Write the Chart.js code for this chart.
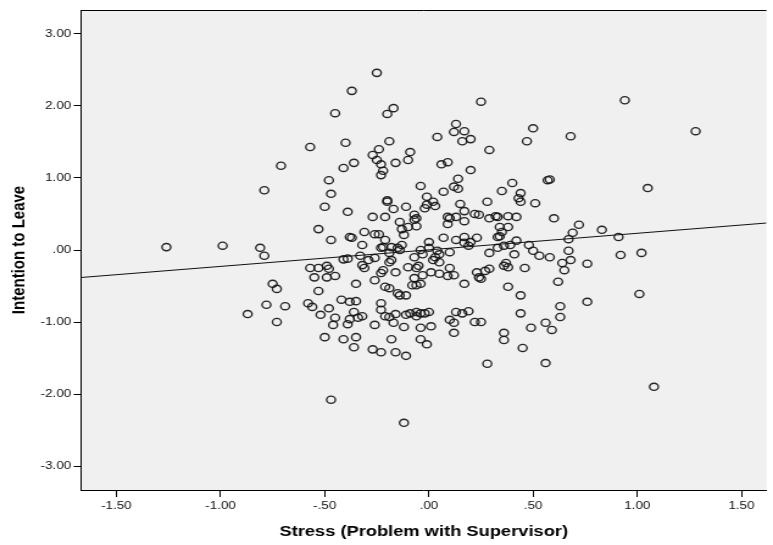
<!DOCTYPE html>
<html>
<head>
<meta charset="utf-8">
<title>Intention to Leave vs Stress</title>
<script src="https://cdn.jsdelivr.net/npm/chart.js@4.4.1/dist/chart.umd.min.js"></script>
<style>
  html, body { margin: 0; padding: 0; background: #fff; }
  #chart { display: block; }
</style>
</head>
<body>
<canvas id="chart"></canvas>
<script>
// one entry per respondent: x = stress (problem with supervisor), y = intention to leave
const stressX = [
  -0.45, -0.57, -0.71, -0.48, -0.25, -0.37, -0.17, -0.20, 0.25, 0.13, 0.12, 0.17, 0.16, 0.20,
  0.04, 0.29, 0.47, -0.40, -0.19, -0.24, -0.27, -0.25, -0.23, -0.22, -0.23, -0.16, -0.09, -0.10,
  -0.36, -0.41, 0.06, 0.09, 0.20, 0.14, 0.40, -0.04, 0.12, 0.94, 0.50, 0.68, 1.28, 0.57,
  0.58, 1.05, -0.79, -0.47, -0.50, -0.53, -0.47, -1.26, -0.99, -0.81, -0.79, -0.57, -0.53, -0.49,
  -0.48, -0.55, -0.49, -0.45, -0.75, -0.73, -0.53, -0.78, -0.69, -0.58, -0.56, -0.48, 0.07, 0.14,
  0.35, 0.44, 0.43, 0.44, -0.20, -0.20, -0.17, -0.11, -0.01, 0.02, 0.03, -0.02, -0.01, 0.15,
  0.17, 0.28, -0.39, -0.27, -0.21, -0.07, -0.06, -0.07, -0.14, -0.10, -0.06, 0.09, 0.10, 0.13,
  0.17, 0.09, 0.22, 0.24, 0.29, 0.32, 0.33, 0.38, 0.42, 0.34, 0.38, 0.35, 0.34, 0.33,
  -0.31, -0.26, -0.24, -0.38, -0.37, -0.13, -0.12, -0.21, -0.32, -0.22, -0.23, -0.18, -0.15, -0.14,
  -0.13, -0.26, -0.41, -0.39, -0.33, -0.32, -0.31, -0.29, -0.19, -0.18, -0.19, -0.22, -0.23, -0.07,
  -0.04, -0.03, 0.00, 0.00, 0.04, 0.05, 0.03, 0.02, 0.07, 0.05, 0.10, 0.13, 0.17, 0.17,
  0.19, 0.20, 0.23, 0.29, 0.33, 0.36, 0.39, 0.42, 0.41, 0.37, 0.38, 0.36, 0.46, 0.29,
  0.27, 0.23, 0.24, 0.25, 0.10, 0.12, 0.09, 0.01, 0.05, -0.03, -0.05, -0.06, -0.10, -0.07,
  -0.16, -0.26, -0.06, -0.04, -0.08, 0.17, 0.38, -0.35, -0.21, -0.19, -0.15, -0.14, -0.11, 0.44,
  -0.42, -0.38, -0.35, -0.23, 0.51, 0.60, 0.72, 0.69, 0.83, 0.67, 0.91, 0.48, 0.50, 0.53,
  0.58, 0.67, 0.68, 0.64, 0.65, 0.76, 0.92, 1.02, 0.62, 1.01, 0.63, 0.76, -0.87, -0.73,
  -0.52, -0.45, -0.46, -0.50, -0.47, -0.36, -0.32, -0.34, -0.38, -0.39, -0.26, -0.23, -0.21, -0.19,
  -0.16, -0.11, -0.09, -0.06, -0.04, -0.17, -0.12, -0.06, -0.02, 0.00, -0.04, 0.01, 0.10, 0.12,
  0.13, 0.16, 0.19, 0.12, 0.22, 0.25, 0.36, 0.36, 0.44, 0.45, -0.41, -0.35, -0.36, -0.18,
  -0.04, -0.01, -0.27, -0.23, -0.16, -0.11, 0.28, -0.12, 0.63, 0.49, 0.56, 0.59, 0.56, 1.08
];
const intentionY = [
  1.90, 1.43, 1.17, 0.97, 2.46, 2.21, 1.97, 1.89, 2.06, 1.75, 1.64, 1.65, 1.51, 1.54,
  1.57, 1.39, 1.51, 1.49, 1.51, 1.40, 1.32, 1.25, 1.19, 1.10, 1.04, 1.21, 1.36, 1.25,
  1.21, 1.14, 1.19, 1.22, 1.11, 0.99, 0.93, 0.89, 0.88, 2.08, 1.69, 1.58, 1.65, 0.97,
  0.98, 0.86, 0.83, 0.78, 0.60, 0.29, 0.14, 0.04, 0.06, 0.03, -0.08, -0.25, -0.25, -0.22,
  -0.26, -0.38, -0.38, -0.36, -0.47, -0.54, -0.57, -0.76, -0.78, -0.74, -0.79, -0.81, 0.81, 0.85,
  0.82, 0.79, 0.72, 0.67, 0.69, 0.67, 0.57, 0.60, 0.74, 0.67, 0.61, 0.58, 0.63, 0.64,
  0.54, 0.67, 0.53, 0.46, 0.46, 0.49, 0.44, 0.42, 0.39, 0.32, 0.33, 0.46, 0.44, 0.46,
  0.40, 0.36, 0.50, 0.49, 0.44, 0.47, 0.46, 0.47, 0.46, 0.32, 0.32, 0.25, 0.19, 0.18,
  0.25, 0.22, 0.22, 0.18, 0.17, 0.29, 0.21, 0.14, 0.07, 0.04, 0.03, 0.04, 0.03, 0.00,
  0.07, -0.11, -0.13, -0.12, -0.08, -0.21, -0.25, -0.14, -0.04, -0.14, -0.17, -0.28, -0.32, -0.10,
  0.00, -0.06, 0.11, 0.03, -0.01, -0.06, -0.10, -0.14, 0.17, -0.17, -0.03, 0.14, 0.18, 0.10,
  0.06, 0.11, 0.17, -0.04, 0.03, 0.06, 0.07, 0.13, -0.06, -0.18, -0.24, -0.22, -0.25, -0.26,
  -0.29, -0.31, -0.38, -0.40, -0.25, -0.35, -0.36, -0.31, -0.33, -0.35, -0.22, -0.25, -0.24, -0.39,
  -0.31, -0.42, -0.49, -0.47, -0.49, -0.47, -0.51, -0.47, -0.51, -0.53, -0.60, -0.63, -0.63, -0.63,
  -0.69, -0.72, -0.71, -0.74, 0.65, 0.44, 0.35, 0.24, 0.28, 0.15, 0.18, 0.07, -0.01, -0.08,
  -0.10, -0.01, -0.14, -0.18, -0.28, -0.19, -0.07, -0.04, -0.44, -0.61, -0.78, -0.72, -0.89, -1.00,
  -0.90, -0.94, -1.04, -1.21, -2.08, -0.86, -0.92, -0.94, -0.96, -1.03, -1.04, -0.83, -0.92, -0.93,
  -0.89, -0.90, -0.88, -0.86, -0.88, -1.01, -1.07, -0.92, -0.88, -0.86, -1.08, -1.06, -0.97, -1.01,
  -0.86, -0.88, -0.85, -1.15, -1.00, -1.00, -1.15, -1.25, -0.88, -1.36, -1.24, -1.21, -1.35, -1.24,
  -1.24, -1.31, -1.38, -1.42, -1.42, -1.47, -1.58, -2.40, -0.93, -1.08, -1.01, -1.11, -1.57, -1.90
];

const xTickValues = [-1.5, -1, -0.5, 0, 0.5, 1, 1.5];
const xTickLabels = ['-1.50', '-1.00', '-.50', '.00', '.50', '1.00', '1.50'];
const yTickValues = [-3, -2, -1, 0, 1, 2, 3];
const yTickLabels = ['-3.00', '-2.00', '-1.00', '.00', '1.00', '2.00', '3.00'];

// least squares line (total sample)
const fitIntercept = 0.002;
const fitSlope = 0.23;

const xMin = -1.67, xMax = 1.62;
const yMin = -3.333, yMax = 3.333;

// the graph is exported wider than tall: draw on a narrower canvas and let css stretch it
const STRETCH = 1.22;
const canvas = document.getElementById('chart');
canvas.width = Math.round(773 / STRETCH);
canvas.height = 545;
canvas.style.width = '773px';
canvas.style.height = '545px';

const FONT = "'Liberation Sans', Arial, sans-serif";

const points = stressX.map((x, i) => ({ x: x, y: intentionY[i] }));
const fitLine = [xMin, xMax].map(x => ({ x: x, y: fitIntercept + fitSlope * x }));

// grey plot background plus the top edge of the frame
const plotFrame = {
  id: 'plotFrame',
  beforeDraw(chart) {
    const { ctx, chartArea: a } = chart;
    ctx.save();
    ctx.fillStyle = '#f0f0f0';
    ctx.fillRect(a.left, a.top, a.right - a.left, a.bottom - a.top);
    ctx.restore();
  },
  afterDraw(chart) {
    const { ctx, chartArea: a } = chart;
    ctx.save();
    ctx.strokeStyle = '#000';
    ctx.lineWidth = 1;
    ctx.beginPath();
    ctx.moveTo(a.left, a.top + 0.5);
    ctx.lineTo(a.right, a.top + 0.5);
    ctx.stroke();
    ctx.restore();
  }
};

new Chart(canvas, {
  type: 'scatter',
  data: {
    datasets: [
      {
        label: 'Fit line',
        data: fitLine,
        showLine: true,
        borderColor: '#111',
        borderWidth: 1,
        pointRadius: 0,
        fill: false
      },
      {
        label: 'Intention to Leave',
        data: points,
        pointStyle: 'circle',
        pointRadius: 3.6,
        borderWidth: 1.35,
        borderColor: 'rgba(20, 20, 20, 0.92)',
        backgroundColor: 'rgba(0, 0, 0, 0)'
      }
    ]
  },
  options: {
    responsive: false,
    devicePixelRatio: 1,
    animation: false,
    layout: { padding: { top: 10, left: 0, right: 0, bottom: 0 } },
    plugins: {
      legend: { display: false },
      tooltip: { enabled: false }
    },
    scales: {
      x: {
        type: 'linear',
        position: 'bottom',
        min: xMin,
        max: xMax,
        afterBuildTicks: axis => { axis.ticks = xTickValues.map(v => ({ value: v })); },
        afterFit: axis => { axis.height = 55; },
        ticks: {
          callback: (value, index) => xTickLabels[index],
          color: '#111',
          font: { family: FONT, size: 11 },
          padding: 2,
          maxRotation: 0,
          autoSkip: false
        },
        grid: { drawOnChartArea: false, drawTicks: true, tickLength: 7, color: '#000' },
        border: { display: true, color: '#000', width: 1 },
        title: {
          display: true,
          text: 'Stress (Problem with Supervisor)',
          color: '#000',
          font: { family: FONT, size: 15, weight: 'bold' },
          padding: { top: 4, bottom: 4 }
        }
      },
      y: {
        type: 'linear',
        min: yMin,
        max: yMax,
        afterBuildTicks: axis => { axis.ticks = yTickValues.map(v => ({ value: v })); },
        afterFit: axis => { axis.width = 81 / STRETCH; },
        ticks: {
          callback: (value, index) => yTickLabels[index],
          color: '#111',
          font: { family: FONT, size: 11 },
          padding: 2
        },
        grid: { drawOnChartArea: false, drawTicks: true, tickLength: 6, color: '#000' },
        border: { display: true, color: '#000', width: 1 },
        title: {
          display: true,
          text: 'Intention to Leave',
          color: '#000',
          font: { family: FONT, size: 15, weight: 'bold' },
          padding: { top: 7, bottom: 4 }
        }
      }
    }
  },
  plugins: [plotFrame]
});
</script>
</body>
</html>
